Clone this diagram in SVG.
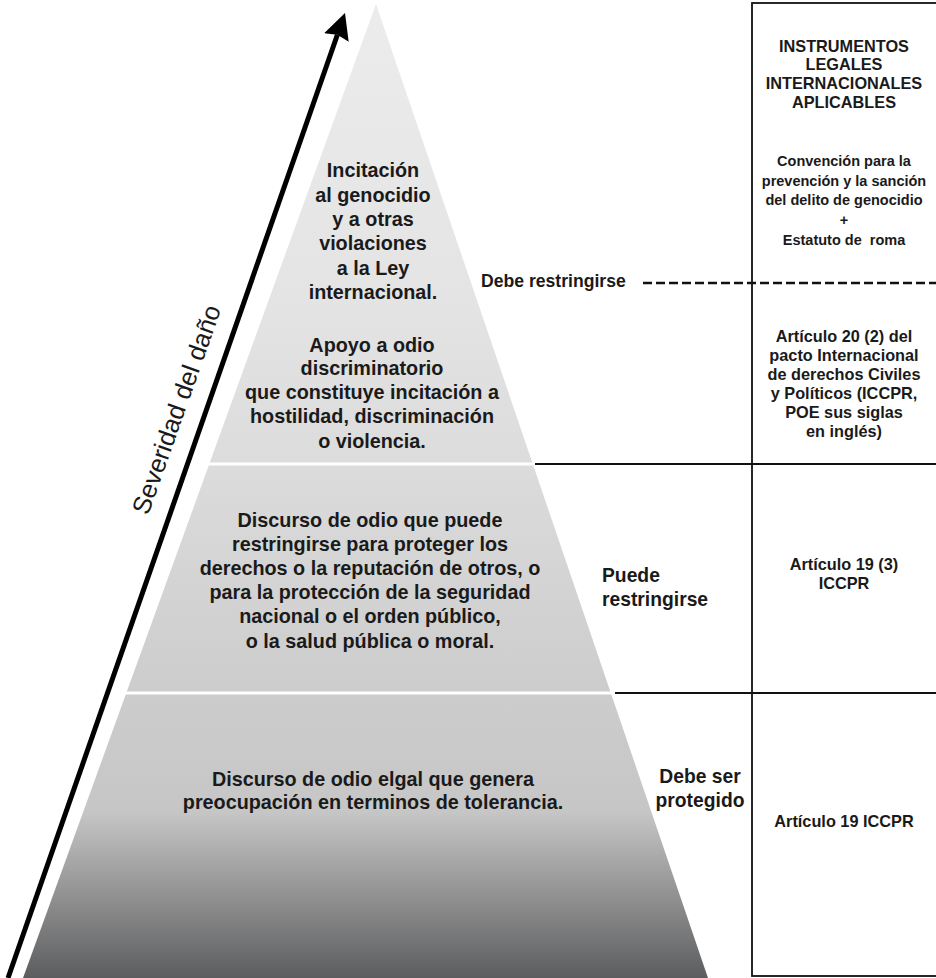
<svg xmlns="http://www.w3.org/2000/svg" width="936" height="978" viewBox="0 0 936 978">
  <defs>
    <linearGradient id="pyrFill" gradientUnits="userSpaceOnUse" x1="0" y1="0" x2="0" y2="978">
      <stop offset="0" stop-color="#ececec"/>
      <stop offset="0.3" stop-color="#e4e4e4"/>
      <stop offset="0.47" stop-color="#dcdcdc"/>
      <stop offset="0.7" stop-color="#cdcdcd"/>
      <stop offset="0.83" stop-color="#c6c6c6"/>
      <stop offset="0.9" stop-color="#9b9b9b"/>
      <stop offset="1" stop-color="#5c5d5f"/>
    </linearGradient>
    <marker id="arrowHead" markerUnits="userSpaceOnUse" viewBox="0 -14 28 28" markerWidth="28" markerHeight="28" refX="3" refY="0" orient="auto">
      <path d="M0,-13 L26,0 L0,13 L3,0 Z" fill="#000"/>
    </marker>
    <style>
      text { font-family: "Liberation Sans", Arial, Helvetica, sans-serif; fill: #1a1a1a; }
      .lvl { font-size: 19.8px; font-weight: bold; text-anchor: middle; }
      .side { font-size: 19.3px; font-weight: bold; }
      .hdr { font-size: 16.3px; font-weight: bold; text-anchor: middle; }
      .inst { font-size: 14.5px; font-weight: bold; text-anchor: middle; }
      .art { font-size: 16.3px; font-weight: bold; text-anchor: middle; }
      .rule { stroke: #111111; stroke-width: 1.8; fill: none; }
      .sep { stroke: #ffffff; stroke-width: 3; }
    </style>
  </defs>
  <rect width="936" height="978" fill="#ffffff"/>

  <g id="pyramid">
    <polygon points="376,4 708,978 23,978" fill="url(#pyrFill)"/>
    <line class="sep" x1="200" y1="464" x2="533" y2="464"/>
    <line class="sep" x1="115" y1="693" x2="612" y2="693"/>
  </g>

  <g id="level-genocidio">
    <text class="lvl" x="373" y="177">Incitación</text>
    <text class="lvl" x="373" y="201.5">al genocidio</text>
    <text class="lvl" x="373" y="226">y a otras</text>
    <text class="lvl" x="373" y="250">violaciones</text>
    <text class="lvl" x="373" y="274.5">a la Ley</text>
    <text class="lvl" x="373" y="298.5">internacional.</text>
  </g>

  <g id="level-apoyo">
    <text class="lvl" x="372" y="351.5">Apoyo a odio</text>
    <text class="lvl" x="372" y="375">discriminatorio</text>
    <text class="lvl" x="372" y="399">que constituye incitación a</text>
    <text class="lvl" x="372" y="423">hostilidad, discriminación</text>
    <text class="lvl" x="372" y="447.5">o violencia.</text>
  </g>

  <g id="level-restringible">
    <text class="lvl" x="370" y="526.5">Discurso de odio que puede</text>
    <text class="lvl" x="370" y="550.7">restringirse para proteger los</text>
    <text class="lvl" x="370" y="575">derechos o la reputación de otros, o</text>
    <text class="lvl" x="370" y="599">para la protección de la seguridad</text>
    <text class="lvl" x="370" y="623.3">nacional o el orden público,</text>
    <text class="lvl" x="370" y="647.5">o la salud pública o moral.</text>
  </g>

  <g id="level-legal">
    <text class="lvl" x="373" y="786">Discurso de odio elgal que genera</text>
    <text class="lvl" x="373" y="809">preocupación en terminos de tolerancia.</text>
  </g>

  <g id="label-debe-restringirse">
    <text class="side" x="481" y="287" style="font-size:17.6px">Debe restringirse</text>
  </g>
  <g id="label-puede-restringirse">
    <text class="side" x="602" y="582">Puede</text>
    <text class="side" x="602" y="605.5">restringirse</text>
  </g>
  <g id="label-debe-ser-protegido">
    <text class="side" x="700" y="783" text-anchor="middle">Debe ser</text>
    <text class="side" x="700" y="807" text-anchor="middle">protegido</text>
  </g>

  <g id="severidad">
    <text x="148" y="516" transform="rotate(-70.5 148 516)" style="font-size:25.5px">Severidad del daño</text>
  </g>

  <g id="instruments-box">
    <rect class="rule" x="752" y="3" width="200" height="973"/>
    <text class="hdr" x="844" y="51.7">INSTRUMENTOS</text>
    <text class="hdr" x="844" y="70.3">LEGALES</text>
    <text class="hdr" x="844" y="89">INTERNACIONALES</text>
    <text class="hdr" x="844" y="108">APLICABLES</text>
  </g>

  <g id="inst-genocidio">
    <text class="inst" x="844" y="166">Convención para la</text>
    <text class="inst" x="844" y="185.5">prevención y la sanción</text>
    <text class="inst" x="844" y="205">del delito de genocidio</text>
    <text class="inst" x="844" y="224.5">+</text>
    <text class="inst" x="844" y="244.5" xml:space="preserve">Estatuto de  roma</text>
  </g>

  <g id="inst-art20">
    <text class="art" x="844" y="342">Artículo 20 (2) del</text>
    <text class="art" x="844" y="361">pacto Internacional</text>
    <text class="art" x="844" y="380">de derechos Civiles</text>
    <text class="art" x="844" y="399">y Políticos (ICCPR,</text>
    <text class="art" x="844" y="418">POE sus siglas</text>
    <text class="art" x="844" y="437">en inglés)</text>
  </g>

  <g id="inst-art19-3">
    <text class="art" x="844" y="570">Artículo 19 (3)</text>
    <text class="art" x="844" y="588.5">ICCPR</text>
  </g>

  <g id="inst-art19">
    <text class="art" x="844" y="827">Artículo 19 ICCPR</text>
  </g>

  <g id="connectors">
    <line x1="8" y1="978" x2="337.4" y2="34.7" stroke="#000" stroke-width="5" marker-end="url(#arrowHead)"/>
    <line class="rule" x1="643" y1="283" x2="936" y2="283" stroke-dasharray="9 4" style="stroke-width:2.4"/>
    <line class="rule" x1="535" y1="464" x2="936" y2="464"/>
    <line class="rule" x1="615" y1="693" x2="936" y2="693"/>
  </g>
</svg>
